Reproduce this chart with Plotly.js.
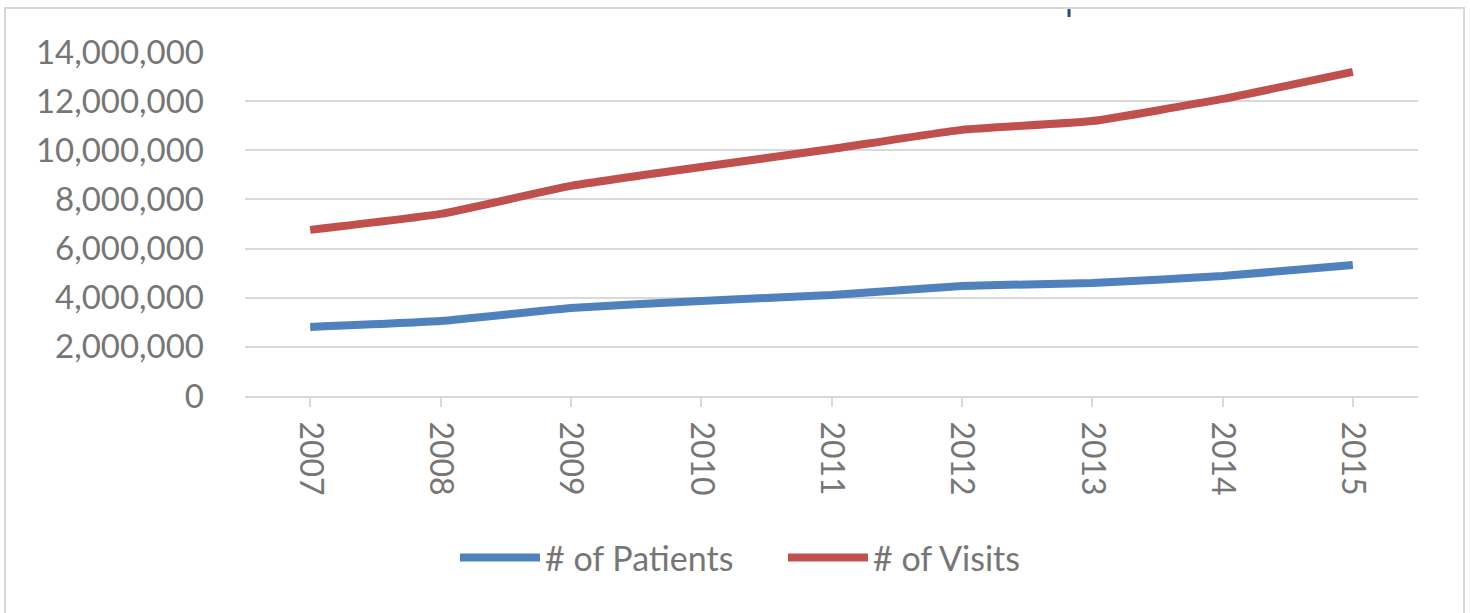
<!DOCTYPE html>
<html>
<head>
<meta charset="utf-8">
<script src="https://cdn.plot.ly/plotly-3.0.1.min.js"></script>
<style>html,body{margin:0;padding:0;background:#fff;}#chart{width:1470px;height:613px;}</style>
</head>
<body>
<div id="chart"></div>
<script>
const years = ['2007','2008','2009','2010','2011','2012','2013','2014','2015'];
const patients = [2810000, 3050000, 3580000, 3870000, 4110000, 4480000, 4600000, 4880000, 5330000];
const visits = [6760000, 7410000, 8550000, 9320000, 10050000, 10830000, 11190000, 12090000, 13190000];
const yTicks = [0, 2000000, 4000000, 6000000, 8000000, 10000000, 12000000, 14000000];

const labelColor = '#767676';
const fontFam = 'Lato, "Open Sans", sans-serif';

const traces = [
  {x: years, y: patients, name: '# of Patients', type: 'scatter', mode: 'lines',
   line: {color: '#4F81BD', width: 8, shape: 'spline', smoothing: 0.4}},
  {x: years, y: visits, name: '# of Visits', type: 'scatter', mode: 'lines',
   line: {color: '#C0504D', width: 8, shape: 'spline', smoothing: 0.4}}
];

const layout = {
  width: 1470, height: 613,
  margin: {l: 245, r: 52, t: 52, b: 217},
  paper_bgcolor: '#ffffff', plot_bgcolor: '#ffffff',
  font: {family: fontFam, color: labelColor, size: 32},
  showlegend: true,
  legend: {orientation: 'h', x: 0.179, y: -0.471, xanchor: 'left', yanchor: 'middle',
           font: {family: fontFam, size: 34, color: labelColor}, itemwidth: 80,
           entrywidth: 233, entrywidthmode: 'pixels', tracegroupgap: 0},
  xaxis: {type: 'category', range: [-0.5, 8.5], tickangle: 90, showgrid: false,
          showline: true, linecolor: '#d9d9d9', linewidth: 2,
          ticks: 'outside', ticklen: 9, tickcolor: '#d9d9d9', tickwidth: 2,
          ticklabelstandoff: 8, tickfont: {family: fontFam, size: 32, color: labelColor}, fixedrange: true},
  yaxis: {range: [0, 14000000], tickvals: yTicks, tickformat: ',d', showgrid: true,
          gridcolor: '#d9d9d9', gridwidth: 2, zeroline: false, showline: false, ticks: '',
          ticklabelstandoff: 40, tickfont: {family: fontFam, size: 33, color: labelColor}, fixedrange: true},
  shapes: [
    {type: 'rect', xref: 'paper', yref: 'paper', x0: -0.2046, x1: 1.0392, y0: -0.7, y1: 1.1279,
     line: {color: '#d9d9d9', width: 2}, fillcolor: 'rgba(0,0,0,0)', layer: 'below'},
    {type: 'line', xref: 'paper', yref: 'paper', x0: 0.7025, x1: 0.7025, y0: 1.1017, y1: 1.125,
     line: {color: '#1F4E79', width: 3}}
  ]
};

Plotly.newPlot('chart', traces, layout, {displayModeBar: false, staticPlot: true});
</script>
</body>
</html>
